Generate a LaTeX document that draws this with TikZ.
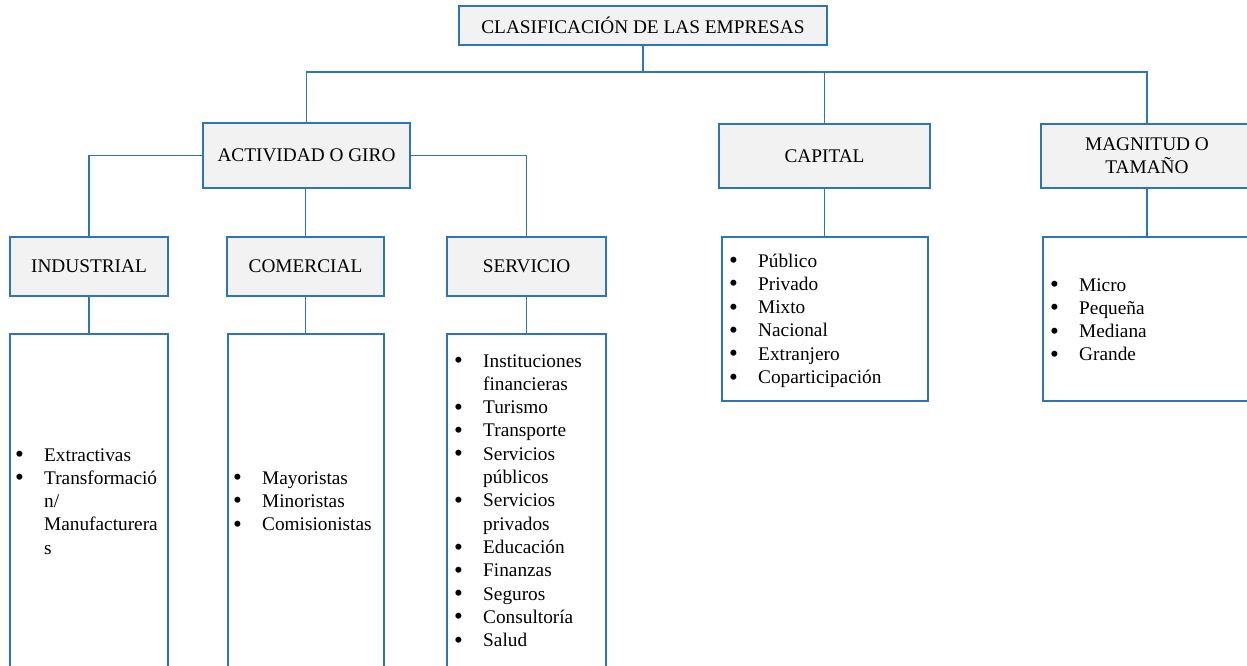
\documentclass[tikz,border=0pt]{standalone}
\usepackage{fontspec}
\setmainfont{Liberation Serif}
\usepackage{tikz}
\definecolor{lineaazul}{HTML}{2E75B6}
\definecolor{fondogris}{HTML}{F2F2F2}
\tikzstyle{titulo}=[rectangle,draw=lineaazul,fill=fondogris,line width=1.2pt,align=center,inner sep=0pt]
\tikzstyle{caja}=[rectangle,draw=lineaazul,line width=1.2pt,inner sep=0pt]
\tikzstyle{items}=[anchor=base west,inner sep=0pt]
\tikzstyle{enlace}=[draw=lineaazul,line width=1.2pt]
\newcommand{\listado}[1]{\begin{tabular}[t]{@{}p{29pt}@{}l@{}}#1\end{tabular}}
\newcommand{\vin}{\raisebox{-1.6pt}{\scalebox{1.3}{\textbullet}}}

\begin{document}
\begin{tikzpicture}[x=1pt,y=-1pt,every node/.style={font=\fontsize{19.3}{23.3}\selectfont}]
\clip (0,0) rectangle (1247,665);

%top box
\node[titulo,minimum width=368pt,minimum height=39pt] (top) at (643,25.5) {CLASIFICACIÓN DE LAS EMPRESAS};
\coordinate (bus) at (643,72);

%second row
\node[titulo,minimum width=207pt,minimum height=65pt] (act) at (306.5,155.5) {ACTIVIDAD O GIRO};
\node[titulo,minimum width=211pt,minimum height=64pt] (cap) at (824.5,156) {CAPITAL};
\node[titulo,minimum width=212pt,minimum height=64pt] (mag) at (1147,156) {MAGNITUD O\\TAMAÑO};

%third row
\node[titulo,minimum width=158pt,minimum height=59pt] (ind) at (89,266.5) {INDUSTRIAL};
\node[titulo,minimum width=157pt,minimum height=59pt] (com) at (305.5,266.5) {COMERCIAL};
\node[titulo,minimum width=159pt,minimum height=59pt] (ser) at (526.5,266.5) {SERVICIO};

%list boxes
\node[caja,minimum width=158pt,minimum height=366pt] (indl) at (89,517) {};
\node[caja,minimum width=156pt,minimum height=366pt] (coml) at (306,517) {};
\node[caja,minimum width=159pt,minimum height=366pt] (serl) at (526.5,517) {};
\node[caja,minimum width=206pt,minimum height=164pt] (capl) at (825,319) {};
\node[caja,minimum width=210pt,minimum height=164pt] (magl) at (1148,319) {};

%connectors
\draw[enlace] (top.south) -- (bus);
\draw[enlace] (act.north) -- (act.north |- bus) -| (mag.north);
\draw[enlace] (cap.north) -- (cap.north |- bus);
\draw[enlace] (act.west) -| (ind.north);
\draw[enlace] (act.east) -| (ser.north);
\draw[enlace] (com.north |- act.south) -- (com.north);
\draw[enlace] (ind.south) -- (ind.south |- indl.north);
\draw[enlace] (com.south) -- (com.south |- coml.north);
\draw[enlace] (ser.south) -- (ser.south |- serl.north);
\draw[enlace] (cap.south) -- (cap.south |- capl.north);
\draw[enlace] (mag.south) -- (mag.south |- magl.north);

%items
\node[items] (indt) at (15,461) {\listado{\vin & Extractivas\\ \vin & Transformació\\ & n/\\ & Manufacturera\\ & s}};
\node[items] (comt) at (233,484) {\listado{\vin & Mayoristas\\ \vin & Minoristas\\ \vin & Comisionistas}};
\node[items] (sert) at (454,367) {\listado{\vin & Instituciones\\ & financieras\\ \vin & Turismo\\ \vin & Transporte\\ \vin & Servicios\\ & públicos\\ \vin & Servicios\\ & privados\\ \vin & Educación\\ \vin & Finanzas\\ \vin & Seguros\\ \vin & Consultoría\\ \vin & Salud}};
\node[items] (capt) at (729,267) {\listado{\vin & Público\\ \vin & Privado\\ \vin & Mixto\\ \vin & Nacional\\ \vin & Extranjero\\ \vin & Coparticipación}};
\node[items] (magt) at (1050,291) {\listado{\vin & Micro\\ \vin & Pequeña\\ \vin & Mediana\\ \vin & Grande}};

\end{tikzpicture}
\end{document}
